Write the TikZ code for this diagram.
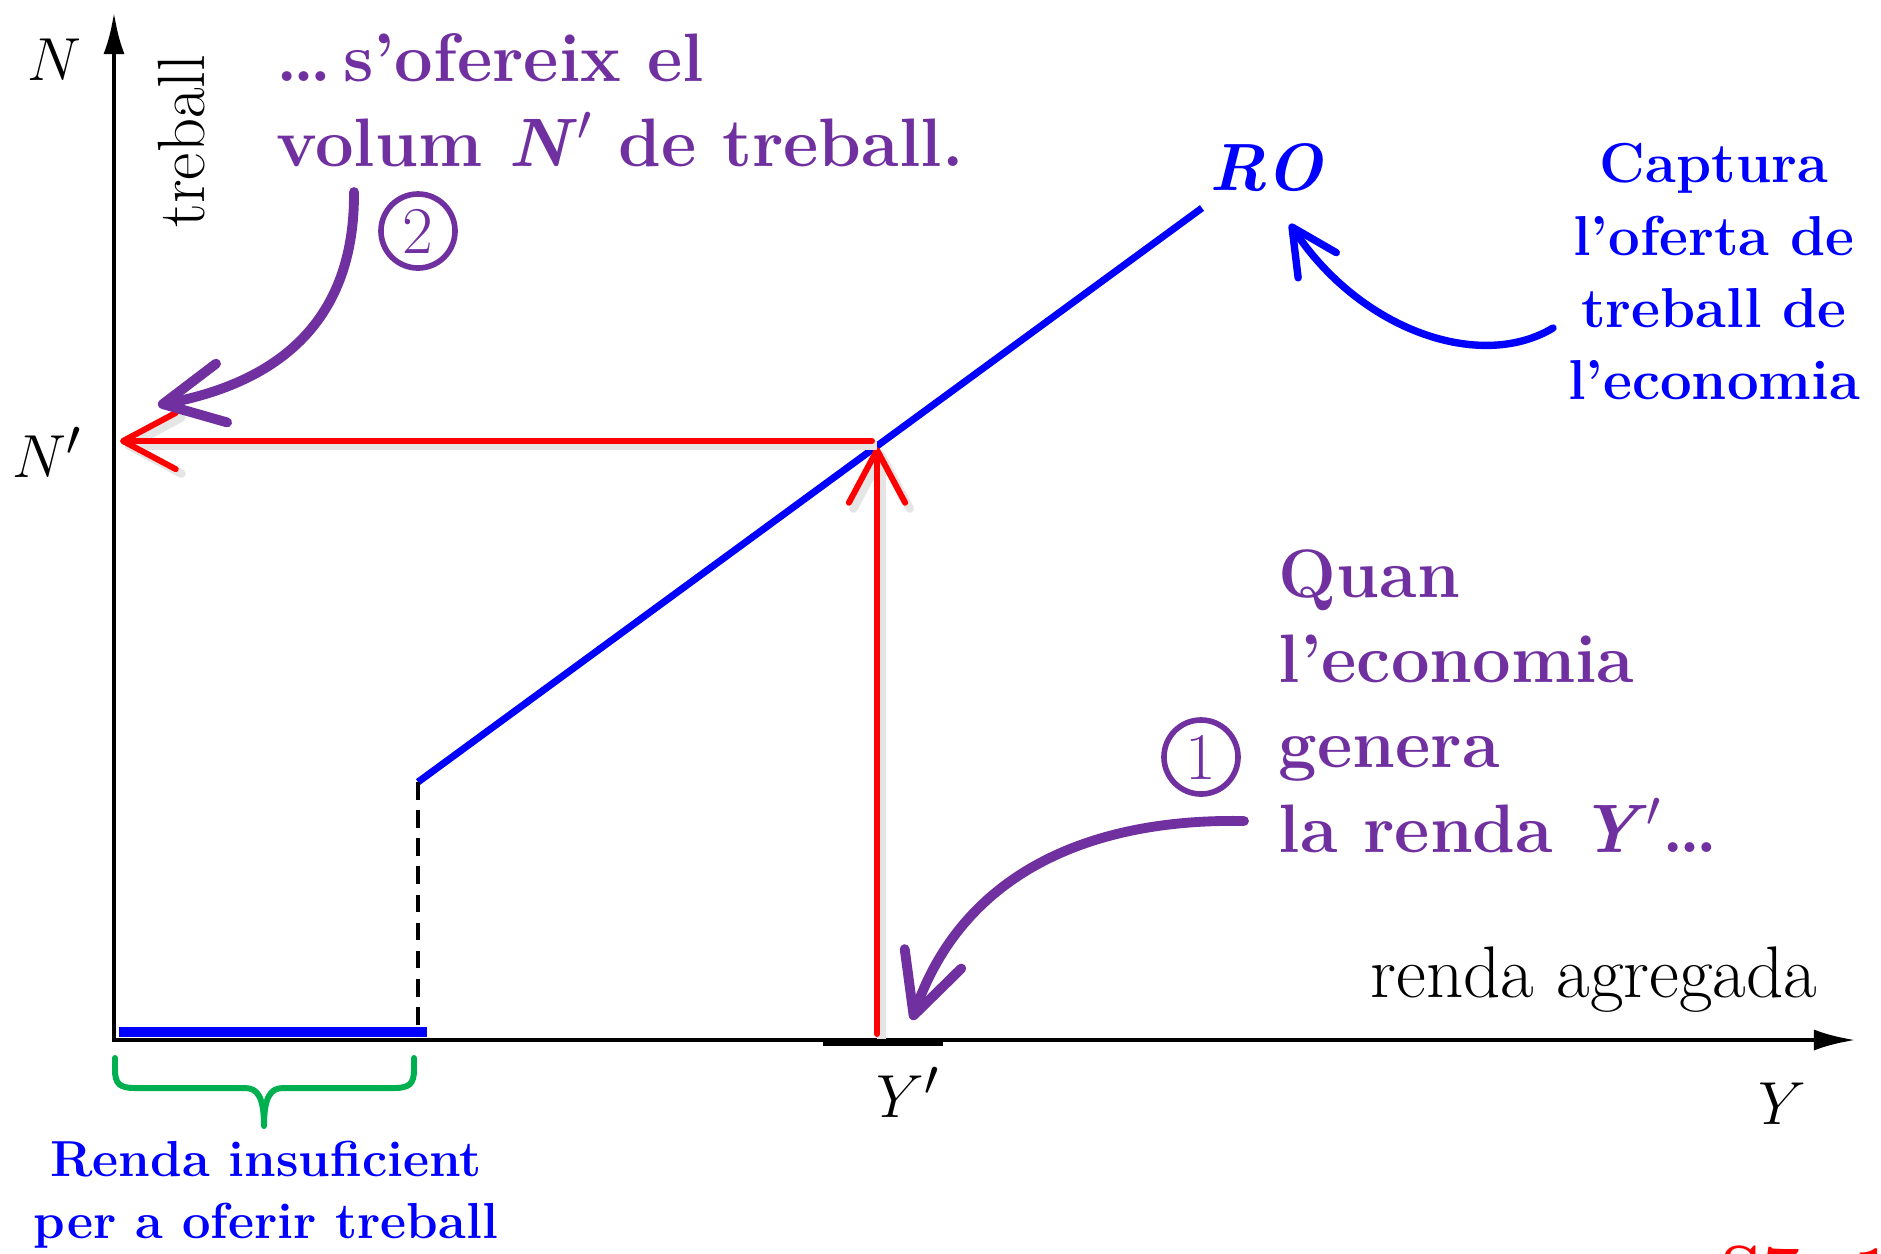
\documentclass[tikz,border=0pt]{standalone}
\usepackage{amsmath,amssymb}
\usepackage{fontspec}
\usetikzlibrary{arrows.meta,positioning}
\definecolor{notepurple}{RGB}{112,48,160}
\definecolor{bracegreen}{RGB}{0,176,80}

\begin{document}
\begin{tikzpicture}[
    x=0.01cm, y=-0.01cm,
    every node/.style={inner sep=0pt},
    axis/.style={line width=1.4pt, line join=miter, {Latex[length=12pt,width=6pt]}-{Latex[length=12pt,width=6pt]}},
    ro/.style={blue, line width=2pt},
    guide/.style={red, line width=1.7pt, line cap=round, -{Straight Barb[length=15pt,width=16pt,line cap=round,line join=round]},
        preaction={draw=black!10, line width=2.4pt, transform canvas={shift={(1.3pt,-1.3pt)}}}},
    note/.style={notepurple, line width=2.8pt, line cap=round, -{Straight Barb[length=17pt,width=17pt,line cap=round,line join=round]}},
    capt/.style={blue, line width=2.1pt, line cap=round, -{Straight Barb[length=13pt,width=13pt,line cap=round,line join=round]}},
    num/.style={circle, draw=notepurple, line width=1.6pt, minimum size=0.74cm, text=notepurple, font=\fontsize{19}{19}\selectfont},
    lab/.style={font=\fontsize{19}{19}\selectfont},
    purpletext/.style={text=notepurple, align=left, font=\fontsize{19.5}{24.2}\selectfont\bfseries},
    bluetext/.style={text=blue, align=center, font=\bfseries}
]
\useasboundingbox (0,0) rectangle (1881,1253);

% axes
\coordinate (O) at (114,1040);
\coordinate (Ntop) at (114,12);
\coordinate (Yend) at (1856,1040);
\draw[axis] (Ntop) -- (O) -- (Yend);
\node[lab] (N) at (54,60) {$N$};
\node[lab] (Np) at (47,452) {$N'$};
\node[lab] (Yp) at (908,1092) {$Y'$};
\node[lab] (Y) at (1782,1104) {$Y$};
\node[lab, rotate=90] (work) at (182,141) {treball};
\node[lab, font=\fontsize{20.8}{20.8}\selectfont] (aggr) at (1594,980) {renda agregada};

% RO curve
\coordinate (ro0) at (418,782);
\coordinate (ro1) at (1202,208);
\coordinate (bar0) at (119,1032);
\coordinate (bar1) at (427,1032);
\draw[ro] (ro0) -- (ro1);
\draw[blue, line width=3.1pt] (bar0) -- (bar1);
\draw[line width=0.9pt, dash pattern=on 5pt off 3pt] (ro0) -- (ro0 |- bar1);
\node[text=blue, font=\fontsize{19}{19}\selectfont\bfseries\itshape] (RO) at (1266,168) {RO};

% Y' and N'
\coordinate (tick0) at (823,1042);
\coordinate (tick1) at (943,1042);
\draw[line width=2.4pt] (tick0) -- (tick1);
\coordinate (E) at (872,441);
\coordinate (Ybase) at (877,1034);
\coordinate (Nend) at (120,441);
\draw[guide] (Ybase) -- (Ybase |- 0,447);
\draw[guide] (E) -- (Nend);

% notes
\node[purpletext, anchor=north west] (supply) at (276,33) {\dots\,s'ofereix el\\volum {\itshape N\/}$'$ de treball.};
\node[num] (two) at (418,231) {2};
\coordinate (n2start) at (354,192);
\coordinate (n2end) at (158,405);
\draw[note] (n2start) .. controls (355,320) and (280,382) .. (n2end);

\node[purpletext, anchor=north west] (income) at (1278,549) {Quan\\l'economia\\genera\\la renda {\itshape Y\/}$'$\dots};
\node[num] (one) at (1201,757) {1};
\coordinate (n1start) at (1244,821);
\coordinate (n1end) at (912,1020);
\draw[note] (n1start) .. controls (1080,818) and (960,880) .. (n1end);

\node[bluetext, anchor=north, font=\fontsize{16}{20.5}\selectfont\bfseries] (capture) at (1714,143) {Captura\\l'oferta de\\treball de\\l'economia};
\coordinate (cstart) at (1553,328);
\coordinate (cend) at (1290,224);
\draw[capt] (cstart) .. controls (1480,372) and (1360,330) .. (cend);

% brace
\draw[bracegreen, line width=1.7pt, line cap=round, line join=round] (115,1058) -- (115,1070) .. controls (115,1084) and (120,1088) .. (135,1088) -- (245,1088) .. controls (258,1088) and (264,1098) .. (264,1126) .. controls (264,1098) and (270,1088) .. (283,1088) -- (394,1088) .. controls (409,1088) and (414,1084) .. (414,1070) -- (414,1058);
\node[bluetext, anchor=north, font=\fontsize{14.4}{17.8}\selectfont\bfseries] (insuf) at (266,1140) {Renda insuficient\\per a oferir treball};

\node[anchor=north west, text=red, font=\fontsize{19}{19}\selectfont\bfseries] (slide) at (1720,1245) {S7. 1mar};
\end{tikzpicture}
\end{document}
